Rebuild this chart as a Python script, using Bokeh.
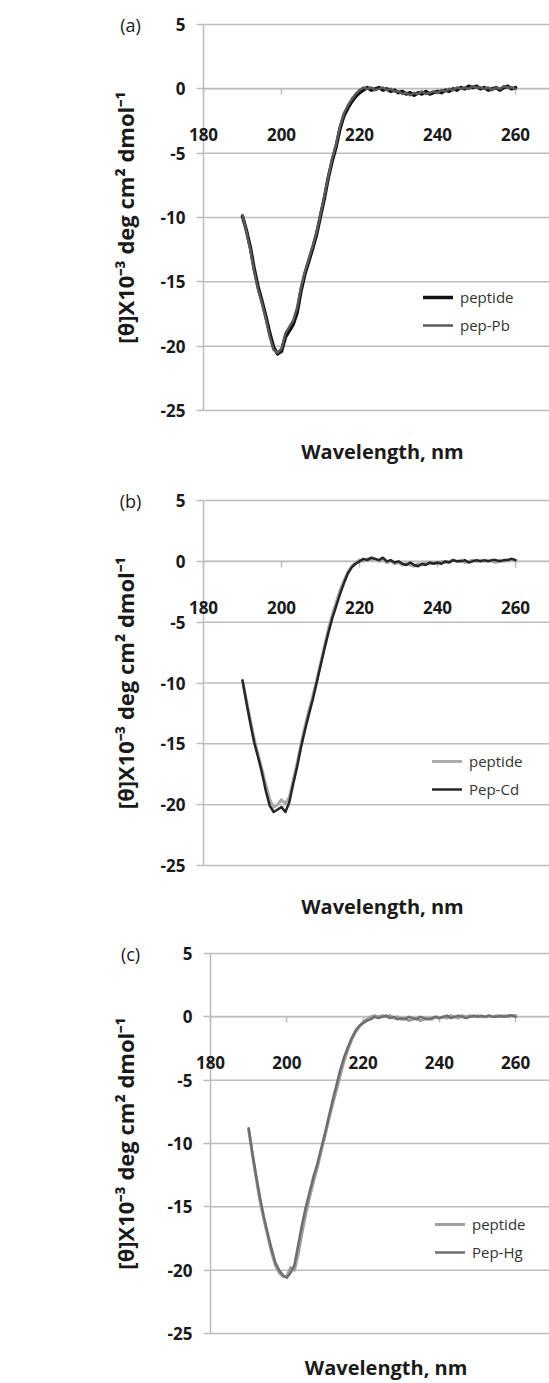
import math
from bokeh.plotting import figure
from bokeh.layouts import column
from bokeh.models import Range1d, FixedTicker, Label, Legend, LegendItem
from bokeh.core.properties import value
from bokeh.embed import file_html
from bokeh.resources import INLINE

# ---------------- data ----------------
wavelength = list(range(190, 261))

a_peptide = [-9.9, -11.0, -12.3, -14.0, -15.4, -16.5, -17.7, -19.0, -20.1, -20.6,
             -20.4, -19.3, -18.8, -18.3, -17.4, -15.7, -14.4, -13.4, -12.4, -11.3,
             -9.9, -8.5, -6.9, -5.6, -4.5, -3.1, -2.1, -1.5, -1.0, -0.6,
             -0.3, -0.1, 0.1, -0.1, 0.0, 0.1, -0.1, 0.0, -0.2, -0.1,
             -0.3, -0.2, -0.4, -0.3, -0.5, -0.3, -0.4, -0.2, -0.4, -0.3,
             -0.2, -0.3, -0.1, -0.2, 0.0, -0.1, 0.1, 0.0, 0.2, 0.1,
             0.2, 0.0, 0.1, -0.1, 0.0, 0.1, -0.1, 0.1, 0.2, 0.0,
             0.1]
a_pep_pb = [-9.8, -11.1, -12.5, -14.2, -15.6, -16.7, -17.9, -19.3, -20.3, -20.5,
            -20.2, -19.0, -18.5, -18.0, -17.0, -15.4, -14.2, -13.2, -12.2, -11.1,
            -9.7, -8.3, -6.8, -5.4, -4.3, -2.9, -1.9, -1.3, -0.8, -0.4,
            -0.1, 0.1, 0.0, 0.1, -0.1, 0.0, 0.1, -0.1, 0.0, -0.2,
            -0.2, -0.4, -0.3, -0.5, -0.3, -0.4, -0.2, -0.4, -0.3, -0.2,
            -0.3, -0.1, -0.2, 0.0, -0.1, 0.1, 0.0, 0.1, 0.0, 0.2,
            0.1, 0.1, 0.0, 0.1, -0.1, 0.1, 0.0, 0.2, 0.1, 0.1,
            0.0]

b_peptide = [-9.8, -11.4, -13.0, -14.6, -15.9, -17.1, -18.4, -19.6, -20.2, -20.0,
             -19.6, -19.9, -19.4, -18.0, -16.6, -15.0, -13.6, -12.3, -11.1, -9.8,
             -8.4, -7.0, -5.6, -4.4, -3.4, -2.4, -1.6, -0.9, -0.4, -0.1,
             0.1, 0.0, 0.2, 0.1, 0.2, 0.0, 0.1, -0.1, 0.0, -0.2,
             -0.1, -0.3, -0.2, -0.3, -0.4, -0.2, -0.3, -0.1, -0.2, -0.1,
             -0.2, 0.0, -0.1, 0.0, 0.1, 0.0, 0.1, -0.1, 0.0, 0.1,
             0.0, 0.1, 0.0, 0.1, 0.0, -0.1, 0.1, 0.0, 0.1, 0.2,
             0.1]
b_pep_cd = [-9.8, -11.6, -13.3, -14.9, -16.1, -17.4, -18.9, -20.1, -20.6, -20.4,
            -20.2, -20.6, -19.8, -18.3, -16.9, -15.3, -13.9, -12.6, -11.4, -10.0,
            -8.6, -7.2, -5.9, -4.7, -3.7, -2.7, -1.8, -1.0, -0.5, -0.2,
            0.0, 0.2, 0.1, 0.3, 0.2, 0.1, 0.3, 0.0, 0.1, -0.1,
            0.0, -0.2, -0.3, -0.1, -0.3, -0.4, -0.2, -0.3, -0.1, -0.2,
            -0.1, -0.2, 0.0, -0.1, 0.1, 0.0, 0.0, 0.1, -0.1, 0.0,
            0.1, 0.0, 0.1, 0.0, 0.1, 0.1, 0.0, 0.1, 0.1, 0.2,
            0.1]

c_peptide = [-8.9, -10.9, -12.8, -14.6, -16.0, -17.3, -18.6, -19.6, -20.2, -20.5,
             -20.5, -19.8, -20.0, -18.7, -17.0, -15.5, -14.2, -13.0, -11.9, -10.6,
             -9.4, -8.1, -6.9, -5.8, -4.6, -3.5, -2.6, -1.8, -1.2, -0.8,
             -0.4, -0.2, 0.0, 0.1, 0.0, 0.1, 0.0, 0.1, -0.1, 0.0,
             -0.2, -0.1, -0.3, -0.2, -0.1, -0.3, -0.2, -0.1, -0.2, 0.0,
             -0.1, 0.0, -0.1, 0.1, 0.0, -0.1, 0.1, 0.0, 0.1, 0.0,
             0.1, 0.0, 0.0, 0.1, 0.0, 0.1, 0.0, 0.1, 0.0, 0.1,
             0.1]
c_pep_hg = [-8.8, -10.8, -12.6, -14.3, -15.8, -17.1, -18.3, -19.4, -20.0, -20.4,
            -20.6, -20.2, -19.6, -18.0, -16.4, -15.0, -13.8, -12.6, -11.6, -10.4,
            -9.2, -7.9, -6.6, -5.4, -4.2, -3.2, -2.4, -1.7, -1.1, -0.7,
            -0.5, -0.3, -0.2, 0.0, -0.1, 0.0, 0.1, -0.1, 0.0, -0.2,
            -0.1, -0.2, 0.0, -0.1, -0.2, 0.0, -0.1, -0.2, -0.1, 0.0,
            -0.1, 0.0, 0.1, -0.1, 0.0, 0.1, 0.0, -0.1, 0.0, 0.1,
            0.0, 0.1, 0.0, 0.1, 0.0, 0.0, 0.1, 0.0, 0.1, 0.1,
            0.0]

x_ticks = [180, 200, 220, 240, 260]
y_ticks = [-25, -20, -15, -10, -5, 0, 5]
x_label = "Wavelength, nm"
y_label = "[\u03b8]X10\u207b\u00b3 deg cm\u00b2 dmol\u207b\u00b9"

FONT = "Open Sans"
TXT = "#1a1a1a"
GRID = "#bdbdbd"
W = 549


def make_panel(letter, series, fig_top, fig_bottom, plot_top, plot_bottom,
               plot_left, px_per_nm, leg_xy, xlab_off):
    H = fig_bottom - fig_top
    y0, y1 = y_ticks[0], y_ticks[-1]
    x0 = x_ticks[0]
    ypx = (plot_bottom - plot_top) / (y1 - y0)
    y_hi = y1 + (plot_top - fig_top) / ypx
    y_lo = y0 - (fig_bottom - plot_bottom) / ypx
    x_lo = x0 - plot_left / px_per_nm
    x_hi = x0 + (W - plot_left) / px_per_nm

    p = figure(width=W, height=H,
               x_range=Range1d(x_lo, x_hi), y_range=Range1d(y_lo, y_hi),
               output_backend="svg", toolbar_location=None,
               min_border_left=0, min_border_right=0,
               min_border_top=0, min_border_bottom=0)
    p.outline_line_color = None
    p.xgrid.visible = False
    p.ygrid.visible = False

    # horizontal gridlines, starting at the vertical axis
    n = len(y_ticks)
    p.segment(x0=[x0] * n, y0=y_ticks, x1=[x_hi] * n, y1=y_ticks,
              line_color=GRID, line_width=1.5)

    # x axis crossing at zero (line + ticks only)
    xa = p.xaxis[0]
    xa.fixed_location = 0
    xa.bounds = (x0, x_hi)
    xa.ticker = FixedTicker(ticks=x_ticks)
    xa.axis_line_color = GRID
    xa.axis_line_width = 1.5
    xa.major_tick_line_color = GRID
    xa.major_tick_line_width = 1.5
    xa.major_tick_in = 0
    xa.major_tick_out = 6
    xa.minor_tick_line_color = None
    xa.major_label_text_alpha = 0
    xa.level = "underlay"

    # y axis at 180 nm (line + ticks only)
    ya = p.yaxis[0]
    ya.fixed_location = x0
    ya.bounds = (y0, y1)
    ya.ticker = FixedTicker(ticks=y_ticks)
    ya.axis_line_color = GRID
    ya.axis_line_width = 1.5
    ya.major_tick_line_color = GRID
    ya.major_tick_line_width = 1.5
    ya.major_tick_in = 0
    ya.major_tick_out = 7
    ya.minor_tick_line_color = None
    ya.major_label_text_alpha = 0
    ya.level = "underlay"

    # tick labels
    p.text(x=[x0] * n, y=y_ticks, text=[str(t) for t in y_ticks],
           x_offset=-18, text_align="right", text_baseline="middle",
           text_font=value(FONT), text_font_style="bold",
           text_font_size="17px", text_color=TXT)
    m = len(x_ticks)
    p.text(x=x_ticks, y=[0] * m, text=[str(t) for t in x_ticks],
           y_offset=46, text_align="center", text_baseline="middle",
           text_font=value(FONT), text_font_style="bold",
           text_font_size="17px", text_color=TXT)

    # axis titles
    p.text(x=[x0], y=[(y0 + y1) / 2], text=[y_label], angle=math.pi / 2,
           x_offset=124 - plot_left, text_align="center",
           text_baseline="middle", text_font=value(FONT),
           text_font_style="bold", text_font_size="22px", text_color=TXT)
    p.add_layout(Label(x=(x_ticks[0] + x_ticks[-1]) / 2, y=y0,
                       x_offset=23, y_offset=-xlab_off, text=x_label,
                       text_align="center", text_baseline="middle",
                       text_font=FONT, text_font_style="bold",
                       text_font_size="20px", text_color=TXT))
    p.add_layout(Label(x=x0, y=y1, x_offset=130 - plot_left, text=letter,
                       text_align="center", text_baseline="middle",
                       text_font=FONT, text_font_size="18px", text_color=TXT))

    items = []
    for name, vals, color, lw in series:
        r = p.line(wavelength, vals, line_color=color, line_width=lw,
                   line_join="round", line_cap="round")
        items.append(LegendItem(label=name, renderers=[r]))

    leg = Legend(items=items, location=leg_xy, background_fill_alpha=0,
                 border_line_color=None, padding=0, margin=0, spacing=8,
                 glyph_width=30, glyph_height=20, label_height=20,
                 label_standoff=7, label_text_font=FONT,
                 label_text_font_size="15px", label_text_color="#333333")
    p.add_layout(leg)
    return p


pa = make_panel("(a)", [("peptide", a_peptide, "#111111", 3.5),
                        ("pep-Pb", a_pep_pb, "#5a5a5a", 2.5)],
                0, 480, 24, 410, 203, 3.9, (423, 145), 41)
pb = make_panel("(b)", [("peptide", b_peptide, "#ababab", 3),
                        ("Pep-Cd", b_pep_cd, "#262626", 2.5)],
                480, 935, 500, 865, 203, 3.9, (432, 136), 41)
pc = make_panel("(c)", [("peptide", c_peptide, "#a0a0a0", 3),
                        ("Pep-Hg", c_pep_hg, "#6e6e6e", 2.5)],
                935, 1383, 953, 1333, 210, 3.815, (435, 121), 34)

layout = column(pa, pb, pc, spacing=0)
open("out.html", "w").write(file_html(layout, INLINE))
